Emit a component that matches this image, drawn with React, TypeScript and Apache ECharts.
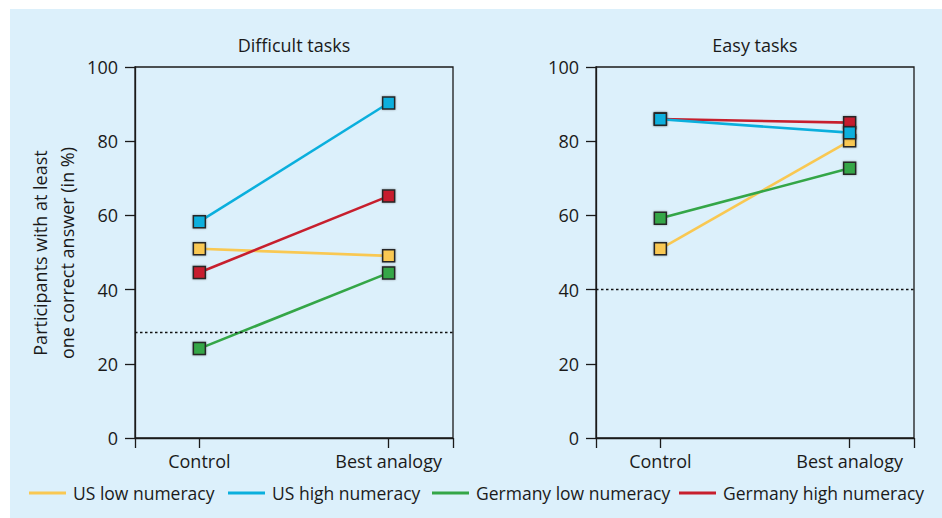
import React, { useEffect, useRef } from "react";
import * as echarts from "echarts";

const categories = ["Control", "Best analogy"];
const seriesNames = ["US low numeracy", "US high numeracy", "Germany low numeracy", "Germany high numeracy"];
const seriesColors = ["#f9c852", "#0aafdd", "#34a647", "#c71f2d"];

const difficultUSLow = [51.0, 49.1];
const difficultUSHigh = [58.3, 90.3];
const difficultGermanyLow = [24.1, 44.5];
const difficultGermanyHigh = [44.6, 65.2];
const difficultThreshold = 28.6;

const easyUSLow = [51.0, 80.1];
const easyUSHigh = [85.9, 82.3];
const easyGermanyLow = [59.2, 72.7];
const easyGermanyHigh = [86.0, 85.0];
const easyThreshold = 40;

const yTicks = [0, 20, 40, 60, 80, 100];
const panelTitles = ["Difficult tasks", "Easy tasks"];
const yAxisTitle = "Participants with at least\none correct answer (in %)";

const FONT = "'Open Sans', sans-serif";
const TEXT = "#1a1a1a";
const FS = 18;

export default function App() {
  const ref = useRef<HTMLDivElement>(null);
  useEffect(() => {
    if (!ref.current) return;
    const chart = echarts.init(ref.current, undefined, { renderer: "svg" });
    const panels = [
      { data: [difficultUSLow, difficultUSHigh, difficultGermanyLow, difficultGermanyHigh], thr: difficultThreshold },
      { data: [easyUSLow, easyUSHigh, easyGermanyLow, easyGermanyHigh], thr: easyThreshold },
    ];
    const gridLefts = [135, 596];
    const xMin = -0.34, xMax = 1.34;
    const drawOrder = [0, 2, 3, 1];
    const series: any[] = [];
    panels.forEach((p, pi) => {
      drawOrder.forEach((si, k) => {
        series.push({
          type: "line",
          name: seriesNames[si],
          xAxisIndex: pi,
          yAxisIndex: pi,
          data: p.data[si].map((v, i) => [i, v]),
          symbol: "rect",
          symbolSize: 12,
          showSymbol: true,
          lineStyle: { color: seriesColors[si], width: 2.6 },
          itemStyle: { color: seriesColors[si], borderColor: "#262626", borderWidth: 1.5, shadowBlur: 2, shadowColor: "rgba(0,0,0,0.35)" },
          z: 3 + k,
          markLine: k === 0 ? {
            silent: true,
            symbol: "none",
            label: { show: false },
            lineStyle: { color: "#111", width: 1.3, type: [2.5, 2.5] },
            data: [{ yAxis: p.thr }],
          } : undefined,
        });
      });
    });
    const legendLefts = [29, 228, 432, 679];
    const legends = seriesNames.map((name, i) => ({
      data: [name],
      left: legendLefts[i],
      top: 484,
      padding: 0,
      itemWidth: 37,
      itemHeight: 3,
      icon: "rect",
      itemStyle: { borderWidth: 0, shadowBlur: 0 },
      textStyle: { fontSize: 17.5, fontFamily: FONT, color: TEXT, padding: [0, 0, 0, 2] },
      selectedMode: false,
    }));
    const option: any = {
      animation: false,
      backgroundColor: "#ffffff",
      textStyle: { fontFamily: FONT },
      graphic: [
        { type: "rect", shape: { x: 10, y: 9, width: 932, height: 509 }, style: { fill: "#dcf0fb" }, z: -10 },
        { type: "text", x: 294, y: 45, style: { text: panelTitles[0], fontSize: FS, fontFamily: FONT, fill: TEXT, align: "center", verticalAlign: "middle" } },
        { type: "text", x: 755, y: 45, style: { text: panelTitles[1], fontSize: FS, fontFamily: FONT, fill: TEXT, align: "center", verticalAlign: "middle" } },
        { type: "text", x: 53, y: 253, rotation: Math.PI / 2, style: { text: yAxisTitle, fontSize: FS, fontFamily: FONT, fill: TEXT, align: "center", verticalAlign: "middle", lineHeight: 27 } },
      ],
      legend: legends,
      grid: gridLefts.map((l) => ({ left: l, top: 67, width: 318, height: 371, show: true, borderColor: "#1a1a1a", borderWidth: 1.3, backgroundColor: "transparent" })),
      xAxis: gridLefts.map((_, i) => ({
        type: "value",
        gridIndex: i,
        min: xMin,
        max: xMax,
        splitLine: { show: false },
        axisLine: { show: true, onZero: false, lineStyle: { color: "#1a1a1a", width: 1.3 } },
        axisTick: { show: true, length: 10, customValues: [xMin, 0, 1, xMax], lineStyle: { color: "#1a1a1a", width: 1.3 } },
        axisLabel: { customValues: [0, 1], formatter: (v: number) => categories[Math.round(v)] ?? "", fontSize: FS, fontFamily: FONT, color: TEXT, margin: 14 },
      })),
      yAxis: gridLefts.map((_, i) => ({
        type: "value",
        gridIndex: i,
        min: 0,
        max: 100,
        interval: 20,
        splitLine: { show: false },
        axisLine: { show: true, onZero: false, lineStyle: { color: "#1a1a1a", width: 1.3 } },
        axisTick: { show: true, length: 10, lineStyle: { color: "#1a1a1a", width: 1.3 } },
        axisLabel: { fontSize: FS, fontFamily: FONT, color: TEXT, margin: 17, formatter: (v: number) => (yTicks.includes(v) ? String(v) : "") },
      })),
      series,
    };
    chart.setOption(option);
    return () => chart.dispose();
  }, []);
  return <div ref={ref} style={{ position: "absolute", left: 0, top: 0, width: 942, height: 518 }} />;
}
